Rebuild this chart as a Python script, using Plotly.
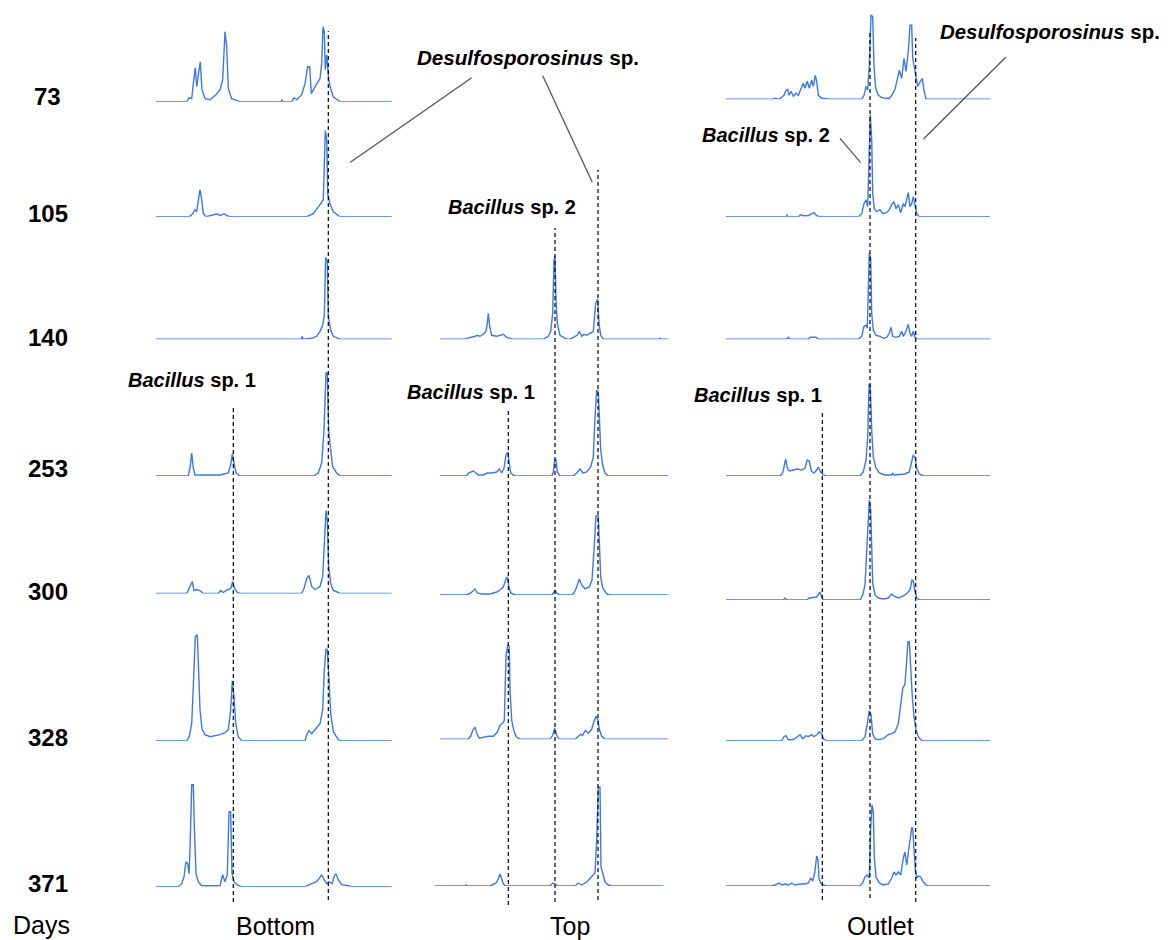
import plotly.graph_objects as go

# page body has an 8px default margin; the figure fills the rest of the window
OFF = 8
W, H = 1170 - 2 * OFF, 940 - OFF

# ---------------- data (scan position vs. fluorescence) ----------------
days = ["73", "105", "140", "253", "300", "328", "371"]
columns = ["Bottom", "Top", "Outlet"]

# Bottom
bottom_73_x = [6, 36.7, 39.3, 41.7, 43.3, 45.3, 46.7, 48.3, 50.3, 52, 55, 60, 66, 70, 72.7, 75, 76.7, 78.3, 81.7, 87.3, 90, 131, 132, 133, 141.7, 144, 146.7, 151.7, 155, 157.7, 159.7, 161.3, 163.3, 166.7, 170, 171.7, 173, 174.3, 175.3, 176.7, 178.7, 180.7, 183.3, 188.3, 190, 241.7]
bottom_73_y = [0, 0, 4, 3, 18, 34, 15, 25, 40, 12, 3, 2, 7, 12, 22, 70, 55, 13, 3, 1, 0, 0, 2, 0, 0, 4, 2, 7, 18, 35, 35, 8, 12, 18, 23, 38, 75, 70, 32, 47, 22, 13, 5, 1, 0, 0]
bottom_105_x = [6, 39.3, 42.7, 45, 46.7, 48.3, 50, 51.7, 53.3, 56, 65, 67.3, 70, 74, 77, 80, 156.7, 163.3, 170, 173.3, 175.3, 176.7, 177.7, 180, 183.3, 188.3, 190, 241.7]
bottom_105_y = [0, 0, 3, 7, 5, 17, 27, 17, 3, 0, 2, 3, 1, 3, 1, 0, 0, 3, 12, 17, 86, 77, 23, 13, 5, 1, 0, 0]
bottom_140_x = [6, 151.5, 152.3, 153, 161.7, 166.7, 170, 172.7, 174.3, 175.7, 177.3, 178.3, 180.7, 183.3, 188.3, 190, 241.7]
bottom_140_y = [0, 0, 3, 0, 1, 3, 8, 14, 24, 82, 78, 24, 9, 3, 1, 0, 0]
bottom_253_x = [6, 38.3, 40, 41.7, 43.3, 45, 53.3, 70, 78.3, 80.7, 82.3, 84, 86, 90, 163.3, 168.3, 171.7, 174, 176, 177.3, 178.7, 180.7, 182.7, 186.7, 190, 241.7]
bottom_253_y = [0, 0, 8, 23, 8, 1, 1, 1, 3, 11, 22, 13, 3, 0, 0, 3, 13, 46, 103, 103, 46, 26, 9, 3, 0, 0]
bottom_300_x = [6, 36.7, 40, 42.3, 44, 46.7, 50, 53.3, 68.3, 70.7, 73.3, 76, 80.7, 82.7, 84.7, 87.3, 90, 151.7, 154, 156.7, 159, 161.7, 165, 170, 172.7, 174.3, 176, 177.3, 178.7, 180.7, 183.3, 188.3, 190, 241.7]
bottom_300_y = [0, 0, 7, 12, 3, 4, 3, 0, 0, 3, 1, 3, 5, 12, 5, 1, 0, 0, 5, 15, 18, 7, 4, 7, 17, 47, 83, 73, 27, 10, 3, 1, 0, 0]
bottom_328_x = [6, 36.7, 39.3, 41.7, 43.3, 45.3, 47.3, 48.3, 50, 52, 55, 60, 65, 70, 75, 78.3, 80.7, 82.3, 84, 85.7, 88.3, 91.7, 155, 156.7, 159, 161.7, 165, 170, 172.7, 174.3, 176, 177.3, 178.7, 180.7, 183.3, 188.3, 191.7, 241.7]
bottom_328_y = [0, 0, 4, 17, 54, 104, 106, 71, 31, 12, 6, 4, 5, 6, 8, 11, 31, 60, 44, 17, 4, 0, 0, 6, 10, 7, 11, 17, 31, 71, 92, 91, 67, 27, 9, 1, 0, 0]
bottom_371_x = [6, 28.3, 31.7, 34, 36, 37.7, 39, 40, 41.7, 43.3, 44.3, 46, 48.3, 51.7, 56.7, 70, 72.7, 75, 77.3, 79, 80.7, 82, 84, 88.3, 91.7, 155, 161.7, 166.7, 169, 171.7, 174, 176.7, 179.3, 182, 184, 186, 188.3, 191.7, 198.3, 201.7, 241.7]
bottom_371_y = [0, 0, 3, 10, 25, 23, 13, 37, 102, 102, 60, 13, 5, 1, 1, 1, 12, 5, 12, 75, 75, 13, 5, 1, 0, 0, 3, 5, 8, 12, 7, 3, 5, 3, 10, 13, 7, 2, 1, 0, 0]

# Top
top_140_x = [10, 35, 36.7, 41.7, 45, 47.3, 50, 53.3, 56, 57.3, 58.3, 59.7, 61.7, 66.7, 70, 73.3, 76.7, 83.3, 113.3, 118.3, 120.7, 122.7, 124, 125, 126, 127.3, 130, 135, 138.3, 141.7, 145, 147.3, 149.3, 151.7, 154, 156.7, 160, 163.3, 165.7, 167.7, 169, 170.7, 173.3, 229, 230, 231, 238.3]
top_140_y = [0, 0, 1, 2, 3, 4, 3, 5, 8, 16, 26, 13, 4, 3, 4, 5, 2, 0, 0, 3, 8, 26, 79, 83, 39, 16, 4, 1, 0, 1, 3, 4, 8, 3, 5, 4, 6, 8, 36, 40, 16, 4, 0, 0, 1, 0, 0]
top_253_x = [10, 36.7, 38.3, 40.7, 43.3, 46, 48.3, 53.3, 57.3, 61.7, 66.7, 69.3, 71.7, 74, 76, 77.7, 79, 80.7, 85, 121.7, 123.3, 124.7, 126, 127.3, 130, 143.3, 146.7, 150, 152.7, 156.7, 160.7, 163.3, 165, 166.7, 168.3, 169.3, 170.7, 172.7, 175, 178.3, 238.3]
top_253_y = [0, 0, 3, 4, 5, 3, 1, 1, 3, 3, 4, 7, 3, 8, 21, 24, 13, 3, 0, 0, 4, 16, 16, 4, 0, 0, 3, 7, 3, 4, 9, 19, 59, 86, 84, 49, 26, 11, 3, 0, 0]
top_300_x = [10, 36.7, 40.7, 43.3, 45, 47.3, 51.7, 60, 66.7, 70, 73.3, 76, 77.3, 79, 80.7, 85, 121.7, 124, 125.3, 126.7, 130, 141.7, 144, 146.7, 149.3, 151.7, 155, 159.3, 162, 164, 166, 168.3, 169.3, 170.7, 172.7, 176.7, 180, 238.3]
top_300_y = [0, 0, 2, 4, 6, 2, 1, 1, 3, 5, 8, 16, 18, 8, 2, 0, 0, 3, 5, 2, 0, 0, 2, 8, 16, 10, 6, 8, 15, 45, 79, 79, 48, 18, 7, 1, 0, 0]
top_328_x = [10, 38.3, 40.7, 42.7, 45, 46.7, 49.3, 53.3, 58.3, 63.3, 67.3, 70, 72.7, 74.3, 76, 77.7, 79.3, 80, 81.7, 84, 86.7, 90.7, 120, 122.7, 124.7, 126.7, 129.3, 145, 148.3, 150.7, 152.7, 155.3, 158.3, 161.7, 164, 166, 168, 169.3, 171.7, 175, 238.3]
top_328_y = [0, 0, 3, 9, 12, 6, 1, 2, 3, 3, 7, 14, 16, 19, 83, 94, 93, 49, 19, 8, 2, 0, 0, 4, 11, 4, 0, 0, 3, 5, 4, 9, 6, 10, 18, 23, 19, 10, 3, 0, 0]
top_371_x = [5, 35, 36, 37, 60, 63.3, 66, 68.3, 70, 71.7, 73.3, 76, 120, 122.7, 125, 127.3, 145, 148.3, 151.7, 156.7, 161.7, 165, 166.7, 168.3, 170, 171, 172.7, 175, 178.3, 181.7, 233.3]
top_371_y = [0, 0, 1, 0, 0, 2, 3, 7, 12, 7, 2, 0, 0, 3, 2, 0, 0, 3, 1, 4, 9, 13, 46, 99, 99, 19, 13, 4, 1, 0, 0]

# Outlet
outlet_73_x = [6, 53.3, 55, 58.3, 61.7, 64, 66, 67.7, 69, 71, 73.3, 76, 78.3, 81, 83.3, 85, 87.3, 89.3, 91.7, 93.3, 95.3, 96.7, 98.3, 101.7, 110, 141.7, 144, 146, 147.7, 149.3, 151, 152.7, 154, 155.7, 158.3, 161.7, 165, 169.3, 171.7, 175, 177.3, 179.3, 181.7, 184, 186, 188.3, 190, 191.7, 192.7, 194, 196, 197.7, 199.3, 201, 202.3, 204, 205.7, 207.3, 270]
outlet_73_y = [0, 0, 1, 0, 2, 4, 9, 10, 4, 8, 3, 6, 4, 10, 16, 11, 18, 11, 19, 13, 24, 18, 4, 1, 0, 0, 4, 13, 9, 33, 84, 83, 33, 11, 4, 2, 1, 1, 4, 10, 19, 29, 21, 41, 28, 48, 74, 74, 41, 34, 23, 13, 16, 19, 21, 9, 1, 0, 0]
outlet_105_x = [6, 66, 67, 68, 78.3, 80.7, 83, 85, 88.3, 91.7, 94, 96.7, 100, 138.3, 141.7, 144, 146, 147.7, 149.3, 150.3, 151.7, 152.7, 154.3, 156.7, 160, 162.7, 166.7, 169.3, 171.7, 174, 176, 178.3, 180.7, 183.3, 185, 186.7, 188.3, 190, 191.7, 193.3, 195, 196.7, 199.3, 270]
outlet_105_y = [0, 0, 1.5, 0, 0, 2, 1, 1, 1, 3, 4, 1, 0, 0, 3, 13, 17, 10, 83, 102, 77, 23, 8, 5, 7, 3, 4, 7, 12, 15, 8, 12, 4, 13, 10, 18, 24, 10, 13, 20, 10, 3, 0, 0]
outlet_140_x = [6, 66.7, 68.3, 70, 88.3, 90, 96, 98.3, 138.3, 141.7, 144, 146, 147.3, 148.7, 149.3, 150.7, 151.7, 153.3, 156, 160, 163.3, 166.7, 169.3, 171, 172.7, 176, 179.3, 181.7, 183.3, 186, 188.3, 190, 191.7, 193.3, 195, 197.3, 270]
outlet_140_y = [0, 0, 2, 0, 0, 2, 2, 0, 0, 3, 13, 14, 11, 59, 86, 81, 26, 9, 4, 3, 1, 2, 6, 12, 3, 2, 3, 8, 3, 8, 15, 6, 3, 8, 2, 0, 0]
outlet_253_x = [6, 60, 62.7, 64.3, 65.7, 67.3, 69.3, 73.3, 77.3, 81.7, 85, 87.3, 89.3, 91.3, 94, 96.7, 98.3, 100.7, 103.3, 106.7, 140, 143.3, 146, 147.7, 149, 150.3, 151.7, 153.3, 156, 159.3, 165, 171.7, 172.7, 174, 185, 189.3, 191.7, 193.3, 195.3, 196.7, 199.3, 203.3, 270]
outlet_253_y = [0, 0, 3, 11, 17, 8, 5, 6, 7, 6, 8, 16, 15, 5, 3, 6, 9, 4, 1, 0, 0, 4, 16, 39, 91, 91, 46, 19, 8, 3, 1, 1, 2.5, 1, 2, 4, 13, 21, 18, 8, 2, 0, 0]
outlet_300_x = [6, 63.3, 65, 66.7, 86.7, 89.3, 96.7, 98.7, 100, 101.7, 103.3, 140, 142.7, 145, 146.7, 148.3, 149.3, 150.7, 151.7, 152.7, 155, 158.3, 163.3, 168.3, 171.7, 174, 178.3, 183.3, 187.3, 190, 192, 193.3, 194.7, 196.7, 200, 270]
outlet_300_y = [0, 0, 2, 0, 0, 2, 3, 7, 8, 3, 0, 0, 5, 15, 47, 87, 100, 90, 60, 17, 5, 2, 1, 2, 6, 4, 2, 4, 7, 10, 20, 19, 10, 2, 0, 0]
outlet_328_x = [6, 61.7, 64, 66, 68.3, 71.7, 75, 77.3, 80, 82.7, 86, 88.3, 91.7, 94, 96.7, 99.3, 101.7, 104, 107.3, 141.7, 145, 147.3, 149.3, 151, 152.7, 155, 158.3, 163.3, 168.3, 171.7, 175, 178.3, 180.7, 182.7, 185, 186.7, 188, 189.3, 190.7, 192.3, 194, 196, 198.3, 201.7, 270]
outlet_328_y = [0, 0, 4, 5, 1, 1, 2, 4, 6, 2, 5, 4, 6, 4, 6, 9, 7, 1, 0, 0, 4, 17, 30, 26, 7, 2, 1, 2, 6, 7, 9, 17, 37, 52, 57, 81, 99, 99, 71, 44, 24, 11, 4, 0, 0]
outlet_371_x = [6, 51.7, 55, 57.3, 59.3, 61.7, 65, 68.3, 71.7, 75, 80, 85, 88.3, 90.7, 92.7, 94.7, 96.7, 98, 99, 100.7, 103.3, 106.7, 140, 142.7, 145, 147.3, 149.3, 150.7, 152, 153.3, 154.3, 156, 159.3, 163.3, 168.3, 171.7, 174, 176, 178.3, 180.7, 183.3, 185, 186.7, 188.3, 190, 191.7, 192.7, 194, 195.3, 196.7, 198.3, 200.7, 203.3, 206, 208.3, 270]
outlet_371_y = [0, 0, 1, 2, 3, 1, 2, 1, 3, 1, 2, 2, 3, 8, 5, 13, 30, 26, 8, 3, 1, 0, 0, 3, 9, 11, 8, 59, 81, 74, 29, 9, 3, 1, 2, 8, 14, 11, 14, 11, 28, 34, 21, 33, 46, 58, 58, 33, 16, 8, 10, 9, 4, 1, 0, 0]

# marker band positions (scan units) per column
bottom_markers = [83.3, 178.3]          # Bacillus sp. 1, Desulfosporosinus sp.
top_markers = [78.3, 125, 168]          # Bacillus sp. 1, Bacillus sp. 2, Desulfosporosinus sp.
outlet_markers = [102.3, 150, 195.7]    # Bacillus sp. 1, Bacillus sp. 2, Desulfosporosinus sp.

# ---------------- layout geometry (window pixels) ----------------
def px(y):
    return 1 - (y - OFF) / H

def pxx(x):
    return (x - OFF) / W

col_px = [(150, 400), (430, 675), (720, 1000)]  # paper extent of each column's scan axis
cells = [
    # (column, day, x, y, baseline_px)
    (0, "73", bottom_73_x, bottom_73_y, 101.7),
    (0, "105", bottom_105_x, bottom_105_y, 216.7),
    (0, "140", bottom_140_x, bottom_140_y, 339.3),
    (0, "253", bottom_253_x, bottom_253_y, 476),
    (0, "300", bottom_300_x, bottom_300_y, 593.5),
    (0, "328", bottom_328_x, bottom_328_y, 740.7),
    (0, "371", bottom_371_x, bottom_371_y, 886.7),
    (1, "140", top_140_x, top_140_y, 339.3),
    (1, "253", top_253_x, top_253_y, 476),
    (1, "300", top_300_x, top_300_y, 595),
    (1, "328", top_328_x, top_328_y, 739.3),
    (1, "371", top_371_x, top_371_y, 886),
    (2, "73", outlet_73_x, outlet_73_y, 99.3),
    (2, "105", outlet_105_x, outlet_105_y, 216.7),
    (2, "140", outlet_140_x, outlet_140_y, 339.3),
    (2, "253", outlet_253_x, outlet_253_y, 476),
    (2, "300", outlet_300_x, outlet_300_y, 600),
    (2, "328", outlet_328_x, outlet_328_y, 740.7),
    (2, "371", outlet_371_x, outlet_371_y, 886),
]

TRACE_COLOR = "#3b78ec"
YSPAN = 130

fig = go.Figure()
layout = dict(
    width=W, height=H, margin=dict(l=0, r=0, t=0, b=0),
    paper_bgcolor="white", plot_bgcolor="rgba(0,0,0,0)", showlegend=False,
)
for c, (a, b) in enumerate(col_px):
    key = "xaxis" if c == 0 else f"xaxis{c+1}"
    layout[key] = dict(domain=[pxx(a), pxx(b)], range=[0, b - a], visible=False,
                       anchor="y", fixedrange=True)

for k, (c, day, xs, ys, base) in enumerate(cells):
    yid = "y" if k == 0 else f"y{k+1}"
    ykey = "yaxis" if k == 0 else f"yaxis{k+1}"
    xid = "x" if c == 0 else f"x{c+1}"
    top_px = max(float(OFF), base - YSPAN)
    layout[ykey] = dict(domain=[px(base), px(top_px)], range=[0, base - top_px],
                        visible=False, anchor=xid, fixedrange=True)
    fig.add_trace(go.Scatter(x=xs, y=ys, xaxis=xid, yaxis=yid, mode="lines",
                             line=dict(color=TRACE_COLOR, width=1.4),
                             cliponaxis=False,
                             name=f"{columns[c]} day {day}", hoverinfo="skip"))

fig.update_layout(**layout)

# dashed marker lines (x in scan units, vertical extent in pixels)
dash_specs = [
    ("x", bottom_markers[0], 406, 902),
    ("x", bottom_markers[1], 31, 900),
    ("x2", top_markers[0], 409, 905),
    ("x2", top_markers[1], 228, 902),
    ("x2", top_markers[2], 170, 900),
    ("x3", outlet_markers[0], 413, 900),
    ("x3", outlet_markers[1], 32, 898),
    ("x3", outlet_markers[2], 38, 902),
]
for xref, xv, ytop, ybot in dash_specs:
    fig.add_shape(type="line", xref=xref, yref="paper", x0=xv, x1=xv,
                  y0=px(ybot), y1=px(ytop),
                  line=dict(color="black", width=1.2, dash="4px,3px"))

# leader lines
leaders = [
    ((471.7, 77.7), (350, 162.5)),
    ((542.7, 75.7), (592.3, 182.3)),
    ((840, 138.3), (860.7, 162.7)),
    ((1006, 57), (923.3, 139.3)),
]
for (xa, ya), (xb, yb) in leaders:
    fig.add_shape(type="line", xref="paper", yref="paper",
                  x0=pxx(xa), y0=px(ya), x1=pxx(xb), y1=px(yb),
                  line=dict(color="#555555", width=1.3))

FONT = "Liberation Sans, Arial, sans-serif"

def label(text, x, y, size, xanchor="center"):
    fig.add_annotation(text=text, x=pxx(x), y=px(y), xref="paper", yref="paper",
                       showarrow=False, xanchor=xanchor, yanchor="middle",
                       font=dict(family=FONT, size=size, color="black"))

desulfo = "<b><i>Desulfosporosinus</i> sp.</b>"
bac1 = "<b><i>Bacillus</i> sp. 1</b>"
bac2 = "<b><i>Bacillus</i> sp. 2</b>"
label(desulfo, 528.3, 58, 20.6)
label(desulfo, 1050, 32, 20.4)
label(bac2, 511.7, 207, 20)
label(bac2, 765.8, 135, 20)
label(bac1, 192, 380, 20)
label(bac1, 471, 392, 20)
label(bac1, 758.3, 395, 20)

day_y = [97, 213, 337, 468, 591, 737, 883]
for d, yy in zip(days, day_y):
    label(f"<b>{d}</b>", 47.5, yy, 24)

label("Days", 41, 925, 25)
col_label_x = [275, 570, 881]
for name, xx in zip(columns, col_label_x):
    label(name, xx, 926, 25)

fig.write_html("out.html")
